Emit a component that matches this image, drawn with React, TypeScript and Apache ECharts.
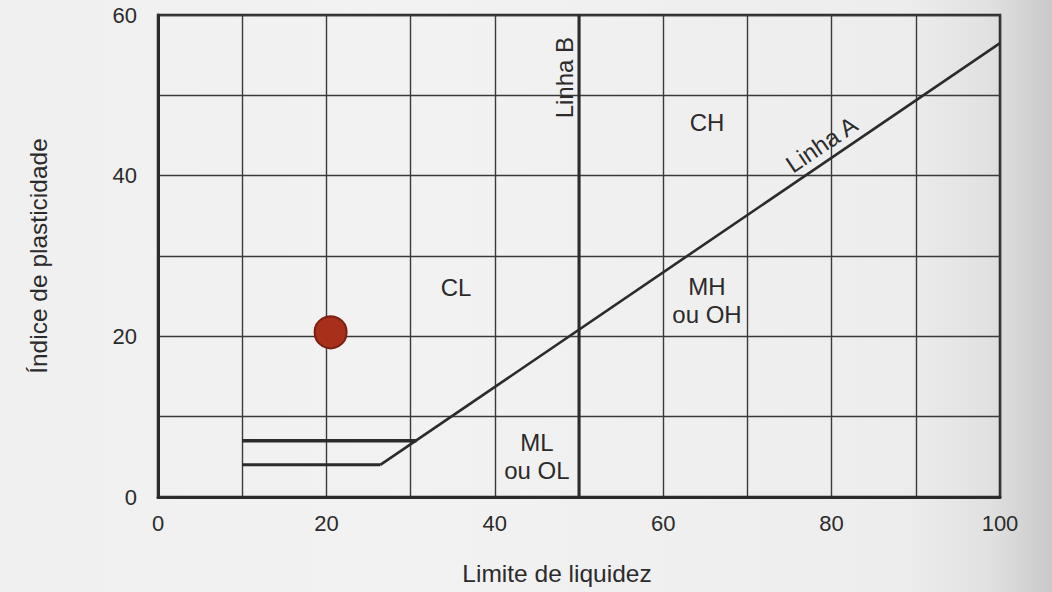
import React, { useEffect, useRef } from "react";
import * as echarts from "echarts";

// Axis ticks
const xTicks = [0, 10, 20, 30, 40, 50, 60, 70, 80, 90, 100];
const yTicks = [0, 10, 20, 30, 40, 50, 60];

// Lines (Limite de liquidez, Índice de plasticidade)
const linhaA = [[26.4, 4], [100, 56.5]];
const linhaB = [[50, 0], [50, 60]];
const faixaSuperior = [[10, 7], [30.7, 7]];
const faixaInferior = [[10, 4], [26.4, 4]];

// Sample point
const amostra = [[20.5, 20.5]];

// Region labels
const regionNames = ["CH", "CL", "MH\nou OH", "ML\nou OL", "Linha B", "Linha A"];
const regionLL = [65.2, 35.4, 65.2, 45.0, 48.3, 78.8];
const regionPI = [46.6, 26.1, 24.4, 5.1, 52.2, 43.9];
const regionRotate = [0, 0, 0, 0, 90, 34];

const FONT = "'Liberation Sans', Arial, Helvetica, sans-serif";
const INK = "#2b2b2b";

export default function App() {
  const ref = useRef<HTMLDivElement>(null);
  useEffect(() => {
    document.body.style.margin = "0";
    if (!ref.current) return;
    const chart = echarts.init(ref.current, null, { renderer: "svg" });
    const lineSeries = (name: string, data: number[][], width: number) => ({
      name,
      type: "line",
      data,
      symbol: "none",
      silent: true,
      lineStyle: { color: INK, width, opacity: 1 },
      z: 3,
    });
    chart.setOption({
      animation: false,
      backgroundColor: "transparent",
      textStyle: { fontFamily: FONT },
      grid: {
        left: 158,
        right: 52,
        top: 15,
        bottom: 95,
        show: true,
        borderColor: INK,
        borderWidth: 2.5,
        backgroundColor: "transparent",
      },
      xAxis: {
        type: "value",
        min: xTicks[0],
        max: xTicks[xTicks.length - 1],
        interval: 10,
        name: "Limite de liquidez",
        nameLocation: "middle",
        nameGap: 64,
        nameTextStyle: {
          fontSize: 24.5,
          color: INK,
          fontFamily: FONT,
          padding: [0, 44, 0, 0],
        },
        axisLine: { lineStyle: { color: INK, width: 3 } },
        axisTick: { show: false },
        axisLabel: {
          fontSize: 22,
          color: INK,
          margin: 15,
          fontFamily: FONT,
          formatter: (v: number) => (v % 20 === 0 ? String(v) : ""),
        },
        splitLine: { show: true, lineStyle: { color: "#3a3a3a", width: 1.4 } },
      },
      yAxis: {
        type: "value",
        min: yTicks[0],
        max: yTicks[yTicks.length - 1],
        interval: 10,
        name: "Índice de plasticidade",
        nameLocation: "middle",
        nameGap: 107,
        nameTextStyle: { fontSize: 24.5, color: INK, fontFamily: FONT },
        axisLine: { show: true, lineStyle: { color: INK, width: 3 } },
        axisTick: { show: false },
        axisLabel: {
          fontSize: 22,
          color: INK,
          margin: 21,
          fontFamily: FONT,
          formatter: (v: number) => (v % 20 === 0 ? String(v) : ""),
        },
        splitLine: { show: true, lineStyle: { color: "#3a3a3a", width: 1.4 } },
      },
      series: [
        lineSeries("Linha A", linhaA, 2.6),
        lineSeries("Linha B", linhaB, 3),
        lineSeries("Faixa superior", faixaSuperior, 3.5),
        lineSeries("Faixa inferior", faixaInferior, 3),
        {
          name: "Amostra",
          type: "scatter",
          data: amostra,
          symbolSize: 32,
          itemStyle: {
            color: "#a8301a",
            borderColor: "#7a2112",
            borderWidth: 2,
            opacity: 1,
          },
          z: 5,
        },
        {
          name: "Regiões",
          type: "scatter",
          silent: true,
          symbolSize: 0,
          itemStyle: { opacity: 1 },
          data: regionNames.map((n, i) => ({
            value: [regionLL[i], regionPI[i]],
            label: {
              show: true,
              formatter: n,
              position: "inside",
              rotate: regionRotate[i],
              fontSize: 24,
              lineHeight: 28,
              color: INK,
              opacity: 1,
              fontFamily: FONT,
              align: "center",
              verticalAlign: "middle",
            },
          })),
          z: 6,
        },
      ],
    });
    return () => chart.dispose();
  }, []);
  return (
    <div
      style={{
        width: 1052,
        height: 592,
        background:
          "linear-gradient(to right, #f1f0f0 0%, #f3f2f2 40%, #eeeded 86%, #e2e1e1 94%, #c9c9c9 100%)",
      }}
    >
      <div ref={ref} style={{ width: 1052, height: 592 }} />
    </div>
  );
}
